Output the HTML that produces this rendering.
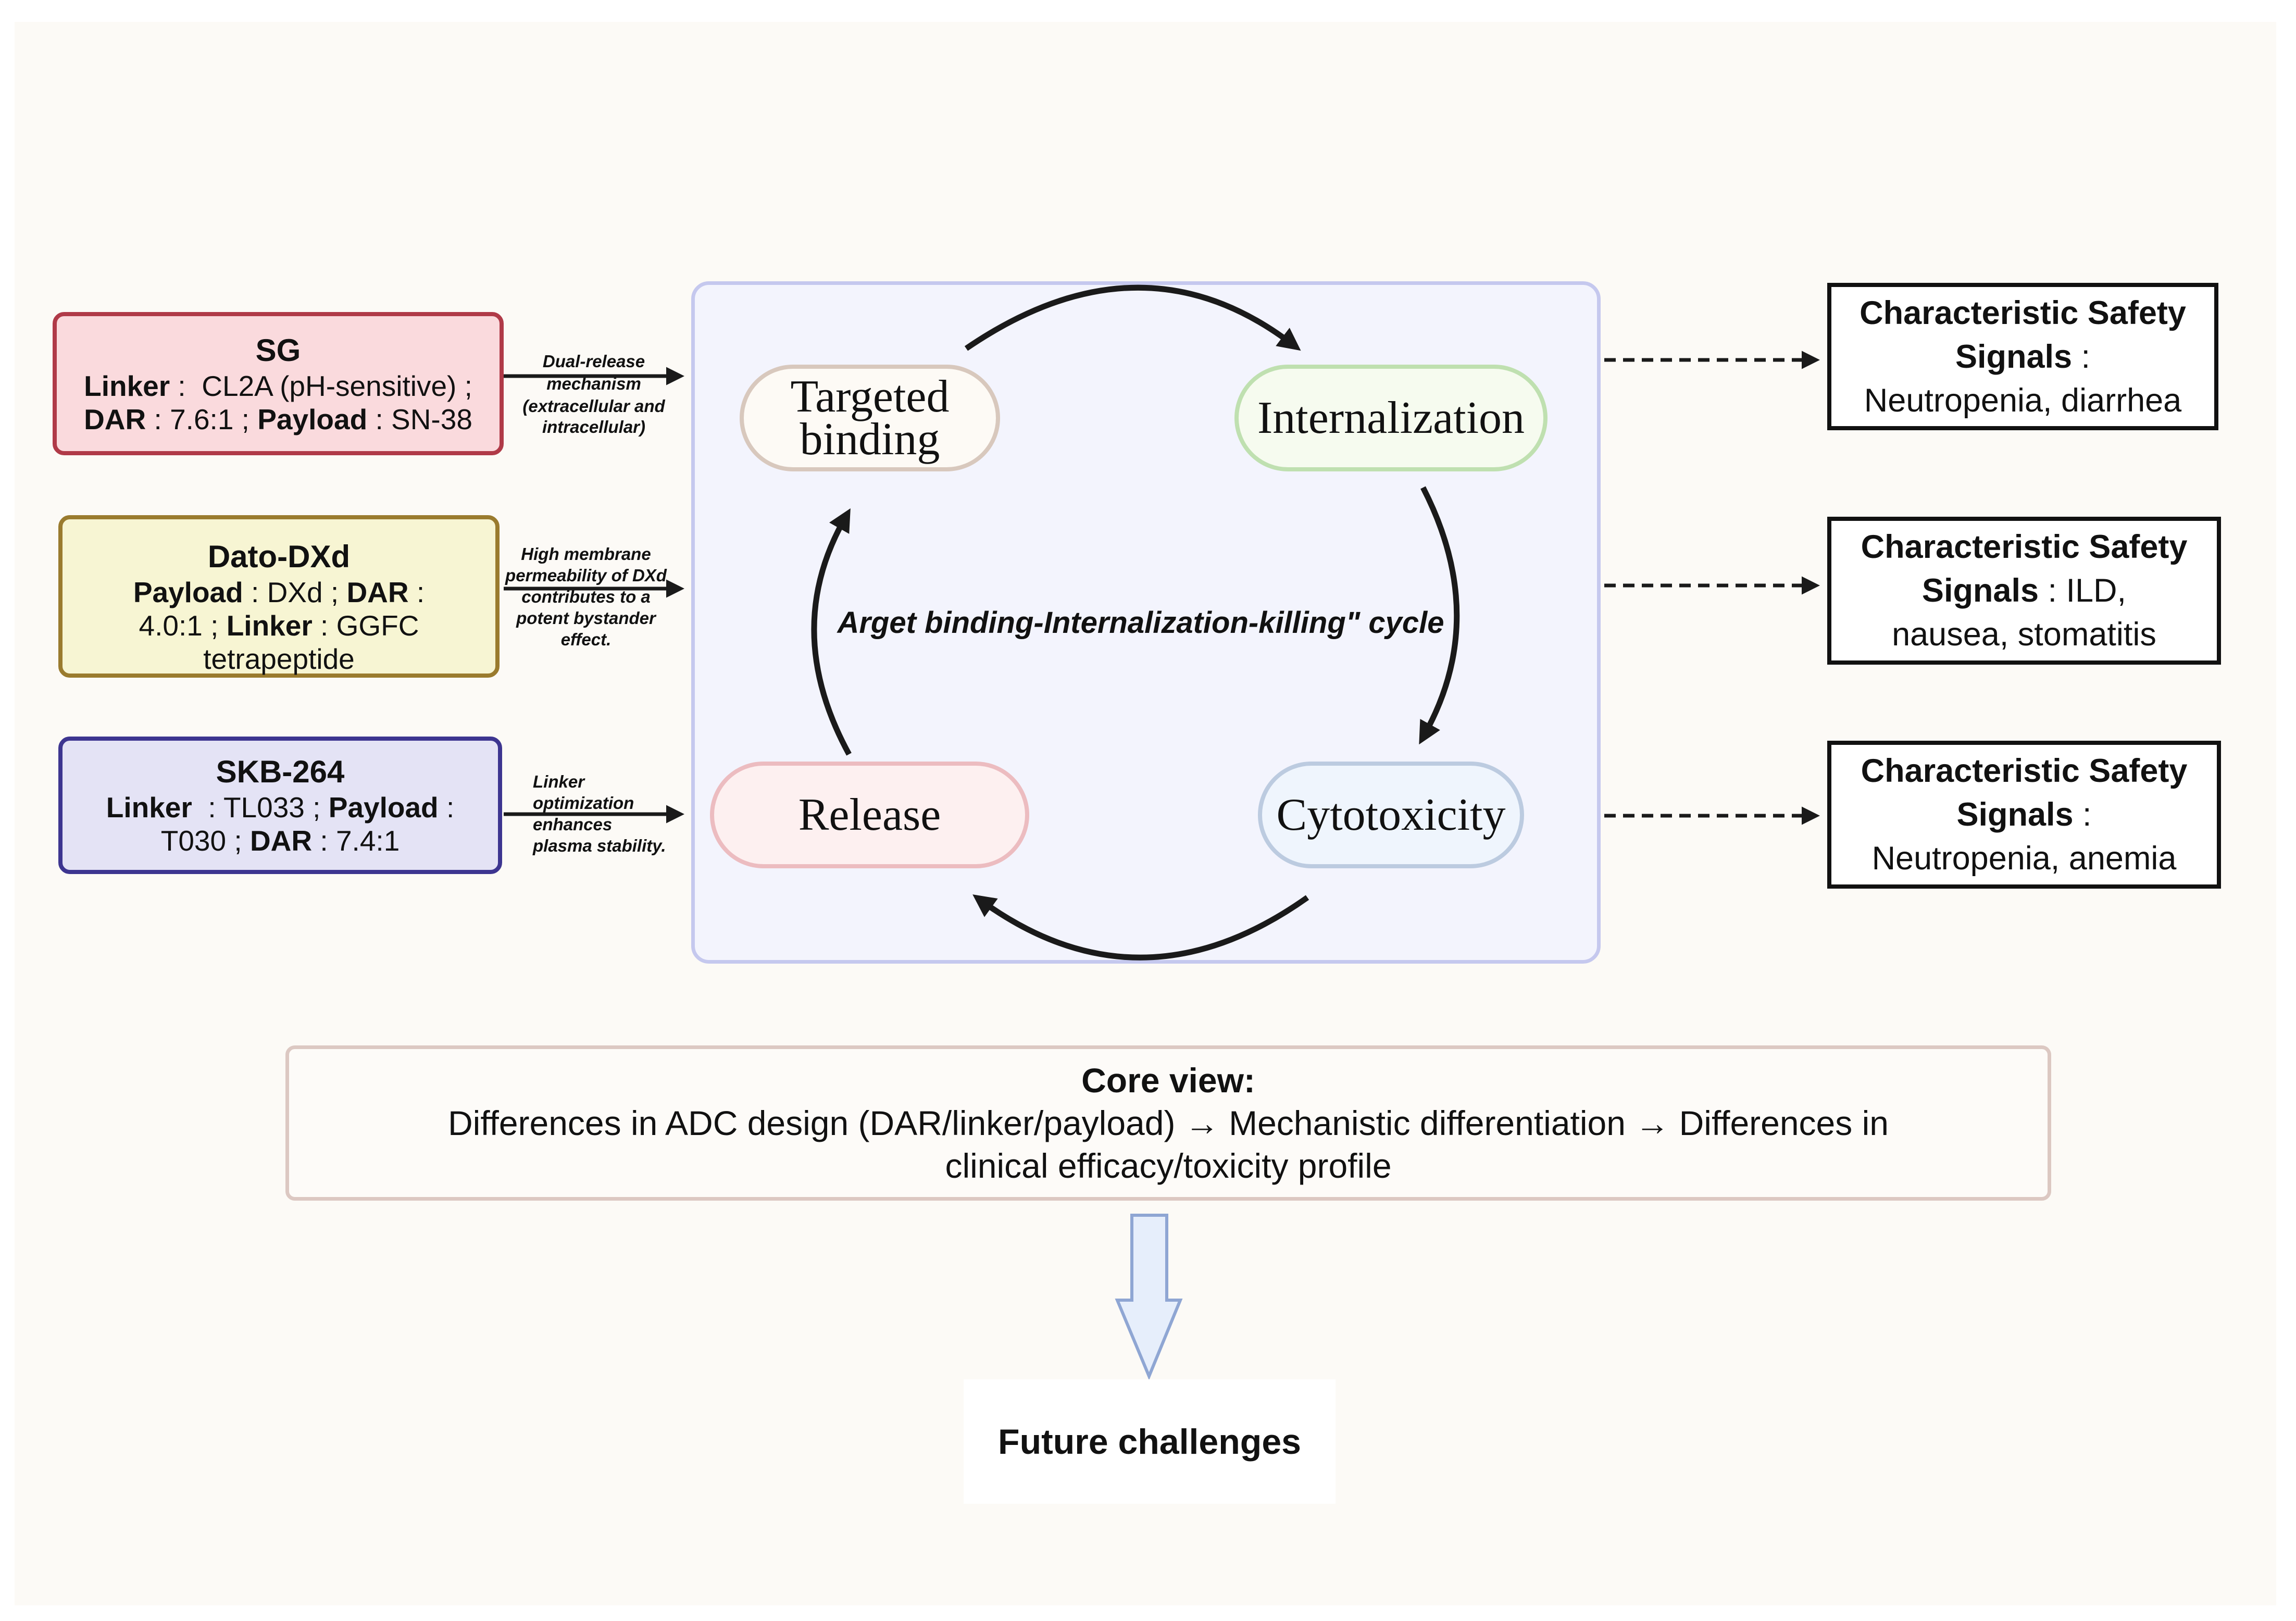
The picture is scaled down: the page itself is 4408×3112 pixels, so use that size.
<!DOCTYPE html>
<html><head><meta charset="utf-8"><style>
body{margin:0;width:4408px;height:3112px;background:#fff;position:relative;overflow:hidden;font-family:"Liberation Sans",sans-serif;color:#111}
.a{position:absolute;box-sizing:border-box;display:flex;flex-direction:column;align-items:center;justify-content:center;text-align:center}
.bx{border-radius:22px;border-width:8px;border-style:solid;font-size:55px;line-height:64px}
.t{font-weight:bold;font-size:60px;line-height:72px}
.pill{border-radius:110px;border-width:8px;border-style:solid;font-family:"Liberation Serif",serif;font-size:88px;line-height:82px}
.rb{border:8px solid #111;background:#fff;font-size:63px;line-height:84px}
.lab{position:absolute;font-weight:bold;font-style:italic;font-size:33px;line-height:40px;text-align:center}
</style></head><body>
<div style="position:absolute;left:28px;top:42px;width:4342px;height:3040px;background:#fcfaf6"></div>

<div class="a bx" style="left:101px;top:599px;width:866px;height:275px;background:#fadadd;border-color:#b03a48">
<div class="t">SG</div><div><b>Linker</b> :&nbsp; CL2A (pH-sensitive) ;</div><div><b>DAR</b> : 7.6:1 ; <b>Payload</b> : SN-38</div></div>
<div class="a bx" style="left:112px;top:989px;width:847px;height:312px;background:#f7f5d3;border-color:#9a7b2e;padding-top:40px">
<div class="t">Dato-DXd</div><div><b>Payload</b> : DXd ; <b>DAR</b> :</div><div>4.0:1 ; <b>Linker</b> : GGFC</div><div>tetrapeptide</div></div>
<div class="a bx" style="left:112px;top:1414px;width:852px;height:264px;background:#e4e3f5;border-color:#3d3590">
<div class="t">SKB-264</div><div><b>Linker</b> &nbsp;: TL033 ; <b>Payload</b> :</div><div>T030 ; <b>DAR</b> : 7.4:1</div></div>

<div class="lab" style="left:980px;top:674px;width:320px">Dual-release<br><span style="line-height:46px">mechanism</span><br>(extracellular and<br>intracellular)</div>
<div class="lab" style="left:950px;top:1043px;width:350px;line-height:41px">High membrane<br>permeability of DXd<br>contributes to a<br>potent bystander<br>effect.</div>
<div class="lab" style="left:1023px;top:1480px;width:330px;text-align:left;line-height:41px">Linker<br>optimization<br>enhances<br>plasma stability.</div>

<div style="position:absolute;left:1327px;top:540px;width:1746px;height:1310px;box-sizing:border-box;border:7px solid #c5c8ee;border-radius:34px;background:#f3f4fd"></div>
<div class="a pill" style="left:1420px;top:700px;width:500px;height:205px;background:#fdfaf5;border-color:#d8c8bd">Targeted<br>binding</div>
<div class="a pill" style="left:2370px;top:700px;width:601px;height:205px;background:#f6fbef;border-color:#bfe0b0">Internalization</div>
<div class="a pill" style="left:1363px;top:1462px;width:613px;height:205px;background:#fdf0f0;border-color:#ecbcc0">Release</div>
<div class="a pill" style="left:2415px;top:1462px;width:511px;height:205px;background:#eff5fd;border-color:#bccbe0">Cytotoxicity</div>
<div class="a" style="left:1560px;top:1160px;width:1260px;height:70px;font-weight:bold;font-style:italic;font-size:58px">Arget binding-Internalization-killing" cycle</div>

<svg style="position:absolute;left:0;top:0" width="4408" height="3112">
<defs>
<marker id="h" markerWidth="5" markerHeight="5" refX="3" refY="2.5" orient="auto"><path d="M0,0 L5,2.5 L0,5 Z" fill="#1a1a1a"/></marker>
<marker id="c" markerWidth="4" markerHeight="4" refX="2" refY="2" orient="auto"><path d="M0,0 L4,2 L0,4 Z" fill="#1a1a1a"/></marker>
</defs>
<g stroke="#1a1a1a" fill="none">
<path d="M967 722 L1300 722" stroke-width="7" marker-end="url(#h)"/>
<path d="M967 1130 L1300 1130" stroke-width="7" marker-end="url(#h)"/>
<path d="M967 1563 L1300 1563" stroke-width="7" marker-end="url(#h)"/>
<path d="M3080 691 L3480 691" stroke-width="7" stroke-dasharray="22 14" marker-end="url(#h)"/>
<path d="M3080 1124 L3480 1124" stroke-width="7" stroke-dasharray="22 14" marker-end="url(#h)"/>
<path d="M3080 1566 L3480 1566" stroke-width="7" stroke-dasharray="22 14" marker-end="url(#h)"/>
<path d="M1855 669 Q2190 440 2480 660" stroke-width="11" marker-end="url(#c)"/>
<path d="M2732 936 Q2860 1185 2735 1410" stroke-width="11" marker-end="url(#c)"/>
<path d="M2510 1723 Q2190 1950 1885 1730" stroke-width="11" marker-end="url(#c)"/>
<path d="M1630 1448 Q1500 1210 1622 995" stroke-width="11" marker-end="url(#c)"/>
</g>
<path d="M2173 2333 L2240 2333 L2240 2496 L2266 2496 L2206 2642 L2145 2496 L2173 2496 Z" fill="#e6eefb" stroke="#8fa6d3" stroke-width="6"/>
</svg>

<div class="a rb" style="left:3508px;top:543px;width:751px;height:283px"><div><b>Characteristic Safety</b></div><div><b>Signals</b> :</div><div>Neutropenia, diarrhea</div></div>
<div class="a rb" style="left:3508px;top:992px;width:756px;height:284px"><div><b>Characteristic Safety</b></div><div><b>Signals</b> : ILD,</div><div>nausea, stomatitis</div></div>
<div class="a rb" style="left:3508px;top:1422px;width:756px;height:284px"><div><b>Characteristic Safety</b></div><div><b>Signals</b> :</div><div>Neutropenia, anemia</div></div>

<div class="a" style="left:548px;top:2007px;width:3390px;height:298px;border:7px solid #dcc8c2;border-radius:18px;background:#fdfbf8;font-size:66px;line-height:82px">
<div><b>Core view:</b></div><div>Differences in ADC design (DAR/linker/payload) → Mechanistic differentiation → Differences in</div><div>clinical efficacy/toxicity profile</div></div>

<div class="a" style="left:1850px;top:2648px;width:714px;height:239px;background:#fff;font-weight:bold;font-size:68px">Future challenges</div>
</body></html>
